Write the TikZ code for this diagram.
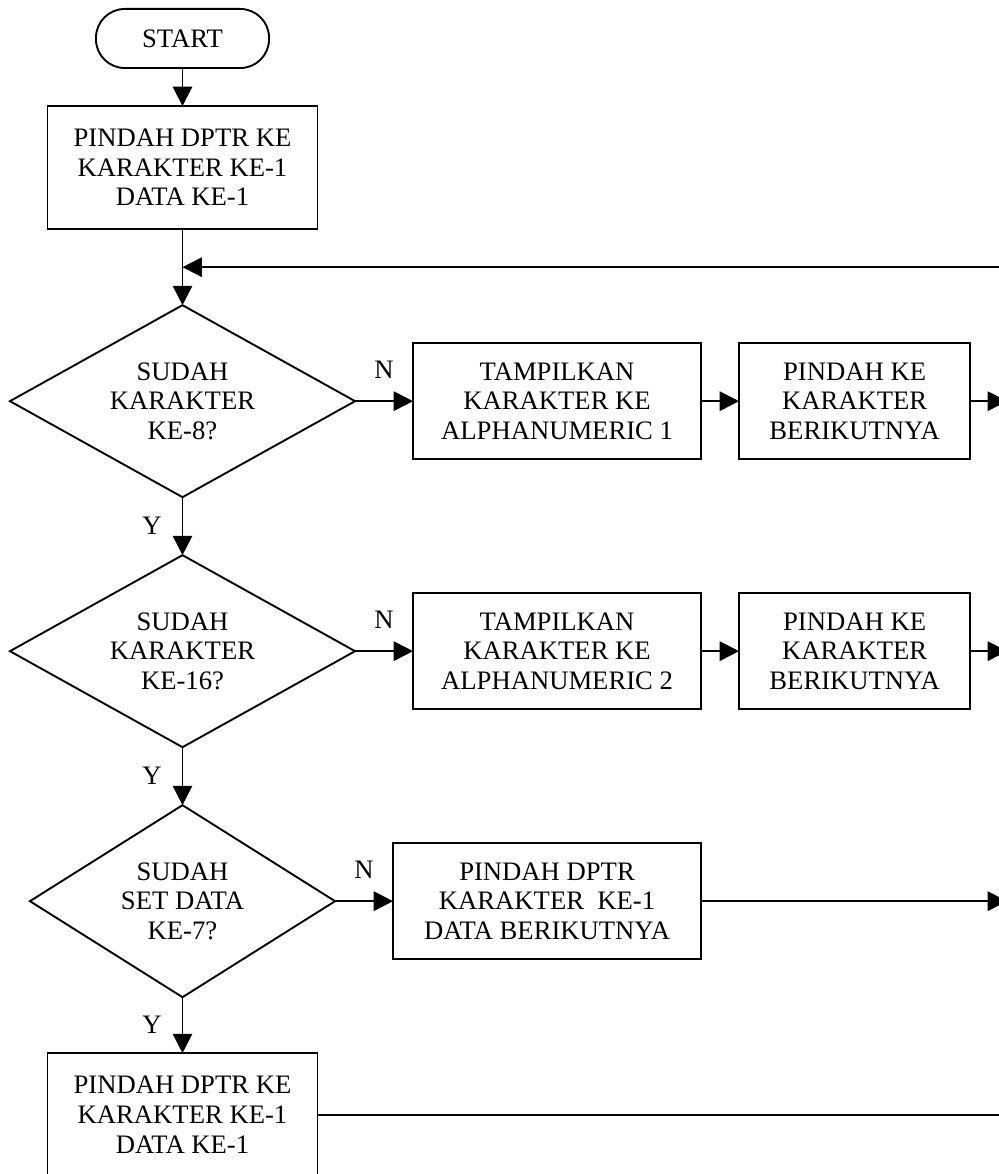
\documentclass[tikz,border=0pt]{standalone}
\usepackage{fontspec}
\setmainfont{Liberation Serif}
\usetikzlibrary{shapes.geometric, arrows.meta, positioning, calc}
\tikzset{
    base/.style={
        draw=black, line width=0.85pt, align=center, inner sep=0pt,
        outer sep=0pt, font=\fontsize{12}{13.3}\selectfont
    },
    terminal/.style={
        base, rectangle, rounded corners=13pt,
        minimum width=77.9pt, minimum height=26.6pt
    },
    procbox/.style={
        base, rectangle, minimum width=121.5pt, minimum height=55.4pt
    },
    showbox/.style={
        base, rectangle, minimum width=129.6pt, minimum height=52.2pt
    },
    nextbox/.style={
        base, rectangle, minimum width=104pt, minimum height=52.2pt
    },
    decision/.style={
        base, diamond, aspect=1.8,
        minimum width=155.3pt, minimum height=86.4pt
    },
    lbl/.style={
        inner sep=1pt, font=\fontsize{12}{13.3}\selectfont
    },
    arrow/.style={
        line width=0.85pt, -{Triangle[length=8.7pt, width=8.7pt]}
    },
    line/.style={
        line width=0.85pt
    }
}

\begin{document}
\begin{tikzpicture}[x=0.45pt, y=-0.45pt]

    \useasboundingbox (0,0) rectangle (998,1174);

    % START
    \node[terminal] (start) at (182.5,38.5) {START};

    \node[procbox, below=17.1pt of start] (init) {
        PINDAH DPTR KE \\ KARAKTER KE-1 \\ DATA KE-1
    };
    \draw[arrow] (start) -- (init);

    % DECISION 1
    \node[decision, below=34.2pt of init] (d1) {
        SUDAH \\ KARAKTER \\ KE-8?
    };
    \draw[arrow] (init) -- (d1);

    \node[showbox, right=26.1pt of d1] (t1) {
        TAMPILKAN \\ KARAKTER KE \\ ALPHANUMERIC 1
    };
    \draw[arrow] (d1.east) -- node[lbl, above=9pt] (n1) {N} (t1);

    \node[nextbox, right=17.1pt of t1] (k1) {
        PINDAH KE \\ KARAKTER \\ BERIKUTNYA
    };
    \draw[arrow] (t1) -- (k1);
    \coordinate[right=16.6pt of k1.east] (o1);
    \draw[arrow] (k1) -- (o1);

    % return line
    \coordinate (ret) at ($(init.south)!0.5!(d1.north)$);
    \coordinate (retR) at (o1 |- ret);
    \draw[arrow] (retR) -- (ret);

    % DECISION 2
    \node[decision, below=26.1pt of d1] (d2) {
        SUDAH \\ KARAKTER \\ KE-16?
    };
    \draw[arrow] (d1) -- node[lbl, left=8pt] (y1) {Y} (d2);

    \node[showbox, right=26.1pt of d2] (t2) {
        TAMPILKAN \\ KARAKTER KE \\ ALPHANUMERIC 2
    };
    \draw[arrow] (d2.east) -- node[lbl, above=9pt] (n2) {N} (t2);

    \node[nextbox, right=17.1pt of t2] (k2) {
        PINDAH KE \\ KARAKTER \\ BERIKUTNYA
    };
    \draw[arrow] (t2) -- (k2);
    \coordinate[right=16.6pt of k2.east] (o2);
    \draw[arrow] (k2) -- (o2);

    % DECISION 3
    \node[decision, minimum width=137.3pt, below=26.1pt of d2] (d3) {
        SUDAH \\ SET DATA \\ KE-7?
    };
    \draw[arrow] (d2) -- node[lbl, left=8pt] (y2) {Y} (d3);

    \node[showbox, minimum width=138.6pt, right=26.1pt of d3] (nxt) {
        PINDAH DPTR \\ KARAKTER~~KE-1 \\ DATA BERIKUTNYA
    };
    \draw[arrow] (d3.east) -- node[lbl, above=9pt] (n3) {N} (nxt);
    \coordinate (o3) at (o1 |- nxt.east);
    \draw[arrow] (nxt) -- (o3);

    % RESET
    \node[procbox, below=25.2pt of d3] (reset) {
        PINDAH DPTR KE \\ KARAKTER KE-1 \\ DATA KE-1
    };
    \draw[arrow] (d3) -- node[lbl, left=8pt] (y3) {Y} (reset);
    \coordinate (o4) at (o1 |- reset.east);
    \draw[line] (reset) -- (o4);

\end{tikzpicture}
\end{document}
